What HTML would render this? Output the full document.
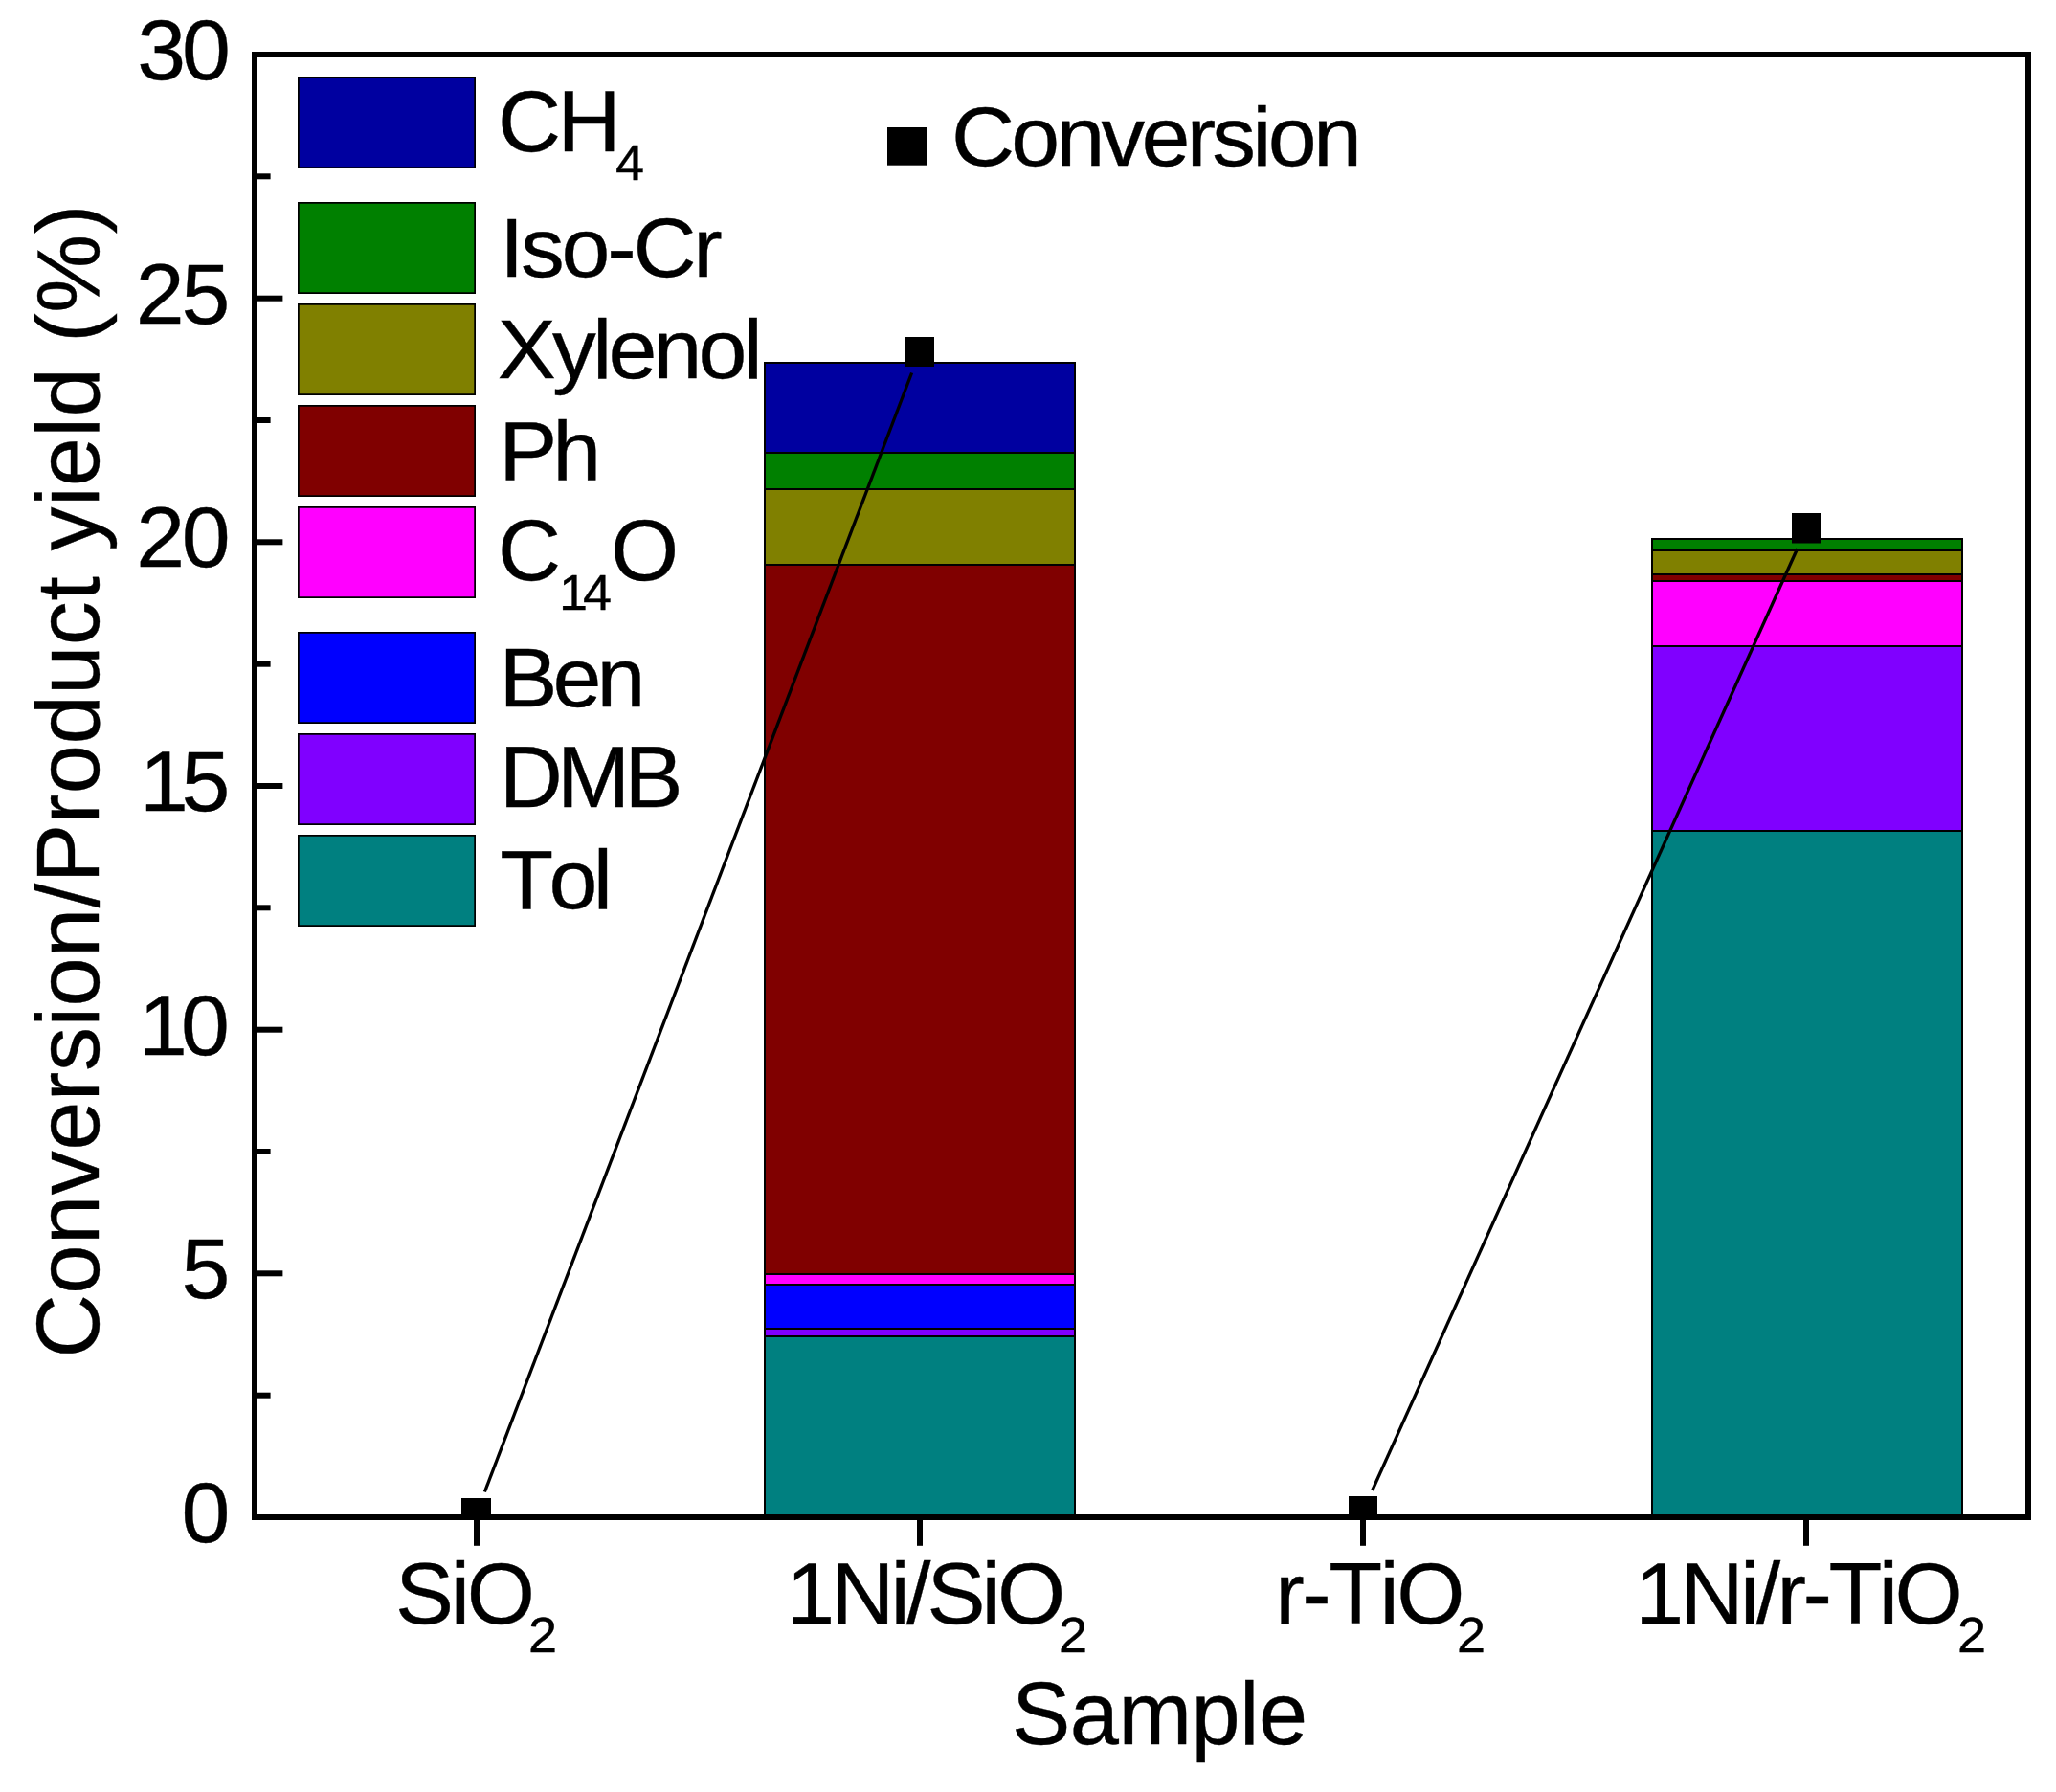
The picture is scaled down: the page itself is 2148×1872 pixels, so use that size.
<!DOCTYPE html>
<html lang="en"><head><meta charset="utf-8"><title>Conversion / Product yield</title>
<style>html,body{margin:0;padding:0;background:#fff}body{width:2148px;height:1872px;overflow:hidden}svg{display:block}text{font-family:"Liberation Sans",Arial,sans-serif;fill:#000}</style></head><body>
<svg width="2148" height="1872" viewBox="0 0 2148 1872">
<rect width="2148" height="1872" fill="#fff"/>
<defs><clipPath id="plot"><rect x="266" y="57" width="1853" height="1528"/></clipPath></defs>
<g stroke="#000" stroke-width="2" shape-rendering="crispEdges">
<rect x="799" y="1396" width="324" height="189" fill="#008080"/>
<rect x="799" y="1388" width="324" height="8" fill="#8000FF"/>
<rect x="799" y="1342" width="324" height="46" fill="#0000FF"/>
<rect x="799" y="1331" width="324" height="11" fill="#FF00FF"/>
<rect x="799" y="589.7" width="324" height="741.3" fill="#800000"/>
<rect x="799" y="511" width="324" height="78.7" fill="#808000"/>
<rect x="799" y="473.4" width="324" height="37.6" fill="#008000"/>
<rect x="799" y="379" width="324" height="94.4" fill="#0000A0"/>
<rect x="1726" y="868" width="324" height="717" fill="#008080"/>
<rect x="1726" y="675" width="324" height="193" fill="#8000FF"/>
<rect x="1726" y="607.3" width="324" height="67.7" fill="#FF00FF"/>
<rect x="1726" y="600" width="324" height="7.3" fill="#800000"/>
<rect x="1726" y="574.8" width="324" height="25.2" fill="#808000"/>
<rect x="1726" y="563" width="324" height="11.8" fill="#008000"/>
</g>
<g clip-path="url(#plot)">
<line x1="506.4" y1="1558.5" x2="952.6" y2="389.5" stroke="#000" stroke-width="3.3"/>
<line x1="1433.7" y1="1557.0" x2="1877.7" y2="573.2" stroke="#000" stroke-width="3.3"/>
<rect x="482" y="1565" width="31" height="31" fill="#000"/>
<rect x="946" y="352" width="30" height="31" fill="#000"/>
<rect x="1409" y="1563" width="30" height="31" fill="#000"/>
<rect x="1872" y="536" width="31" height="31.5" fill="#000"/>
</g>
<rect x="266" y="57" width="1853" height="1528" fill="none" stroke="#000" stroke-width="6"/>
<g stroke="#000" stroke-width="6" stroke-linecap="butt">
<line x1="266" y1="1330.3" x2="295.4" y2="1330.3"/>
<line x1="266" y1="1075.7" x2="295.4" y2="1075.7"/>
<line x1="266" y1="821.0" x2="295.4" y2="821.0"/>
<line x1="266" y1="566.3" x2="295.4" y2="566.3"/>
<line x1="266" y1="311.7" x2="295.4" y2="311.7"/>
<line x1="266" y1="1457.7" x2="282.6" y2="1457.7"/>
<line x1="266" y1="1203.0" x2="282.6" y2="1203.0"/>
<line x1="266" y1="948.3" x2="282.6" y2="948.3"/>
<line x1="266" y1="693.7" x2="282.6" y2="693.7"/>
<line x1="266" y1="439.0" x2="282.6" y2="439.0"/>
<line x1="266" y1="184.3" x2="282.6" y2="184.3"/>
<line x1="498" y1="1585" x2="498" y2="1614.8"/>
<line x1="961" y1="1585" x2="961" y2="1614.8"/>
<line x1="1424" y1="1585" x2="1424" y2="1614.8"/>
<line x1="1887" y1="1585" x2="1887" y2="1614.8"/>
</g>
<g stroke="#000" stroke-width="0.35" style="font-kerning:none">
<text transform="translate(413.00,1695.70) scale(1.017,1)" font-size="90" letter-spacing="-3.24">SiO</text>
<text transform="translate(552.00,1725.60) scale(1.04,1)" font-size="52">2</text>
<text transform="translate(821.30,1695.70) scale(1.017,1)" font-size="90" letter-spacing="-3.83">1Ni/SiO</text>
<text transform="translate(1106.00,1725.60) scale(1.04,1)" font-size="52">2</text>
<text transform="translate(1332.30,1695.70) scale(1.017,1)" font-size="90" letter-spacing="-2.51">r-TiO</text>
<text transform="translate(1521.90,1725.60) scale(1.04,1)" font-size="52">2</text>
<text transform="translate(1708.20,1695.70) scale(1.017,1)" font-size="90" letter-spacing="-3.52">1Ni/r-TiO</text>
<text transform="translate(2045.10,1725.60) scale(1.04,1)" font-size="52">2</text>
<text transform="translate(1057.00,1821.80) scale(1,1)" font-size="92" letter-spacing="-0.56">Sample</text>
<text transform="translate(520.10,158.00) scale(1.017,1)" font-size="90" letter-spacing="-3.74">CH</text>
<text transform="translate(643.00,187.70) scale(1.04,1)" font-size="52">4</text>
<text transform="translate(521.90,289.00) scale(1.04,1)" font-size="88" letter-spacing="-3.12">Iso-Cr</text>
<text transform="translate(519.80,395.00) scale(1.04,1)" font-size="88" letter-spacing="-3.69">Xylenol</text>
<text transform="translate(521.30,500.80) scale(1.04,1)" font-size="88" letter-spacing="-5.00">Ph</text>
<text transform="translate(519.90,606.00) scale(1.017,1)" font-size="90">C</text>
<text transform="translate(584.00,636.70) scale(1.04,1)" font-size="52" letter-spacing="-4.81">14</text>
<text transform="translate(637.90,606.00) scale(1.017,1)" font-size="90">O</text>
<text transform="translate(521.50,738.00) scale(1.04,1)" font-size="88" letter-spacing="-4.81">Ben</text>
<text transform="translate(521.70,843.00) scale(1.017,1)" font-size="90" letter-spacing="-5.70">DMB</text>
<text transform="translate(522.30,948.90) scale(1.04,1)" font-size="88" letter-spacing="-4.52">Tol</text>
<text transform="translate(994.00,172.70) scale(1.04,1)" font-size="88" letter-spacing="-3.63">Conversion</text>
<text transform="translate(189.40,1611.00) scale(1.025,1)" font-size="89.3">0</text>
<text transform="translate(189.40,1356.33) scale(1.025,1)" font-size="89.3">5</text>
<text transform="translate(145.00,1101.67) scale(1.025,1)" font-size="89.3" letter-spacing="-6.63">10</text>
<text transform="translate(146.10,847.00) scale(1.025,1)" font-size="89.3" letter-spacing="-7.41">15</text>
<text transform="translate(142.20,592.33) scale(1.025,1)" font-size="89.3" letter-spacing="-3.32">20</text>
<text transform="translate(141.80,337.67) scale(1.025,1)" font-size="89.3" letter-spacing="-3.12">25</text>
<text transform="translate(143.30,83.00) scale(1.025,1)" font-size="89.3" letter-spacing="-4.10">30</text>
<text transform="translate(102.60,1418.60) rotate(-90)" font-size="92" letter-spacing="0.50">Conversion/Product yield (%)</text>
</g>
<g stroke="#000" stroke-width="1.75">
<rect x="311.875" y="80.875" width="184.25" height="94.25" fill="#0000A0"/>
<rect x="311.875" y="211.875" width="184.25" height="94.25" fill="#008000"/>
<rect x="311.875" y="317.875" width="184.25" height="94.25" fill="#808000"/>
<rect x="311.875" y="423.875" width="184.25" height="94.25" fill="#800000"/>
<rect x="311.875" y="529.875" width="184.25" height="94.25" fill="#FF00FF"/>
<rect x="311.875" y="660.875" width="184.25" height="94.25" fill="#0000FF"/>
<rect x="311.875" y="766.875" width="184.25" height="94.25" fill="#8000FF"/>
<rect x="311.875" y="872.875" width="184.25" height="94.25" fill="#008080"/>
</g>
<rect x="927" y="133" width="42" height="39.7" fill="#000"/>
</svg></body></html>
